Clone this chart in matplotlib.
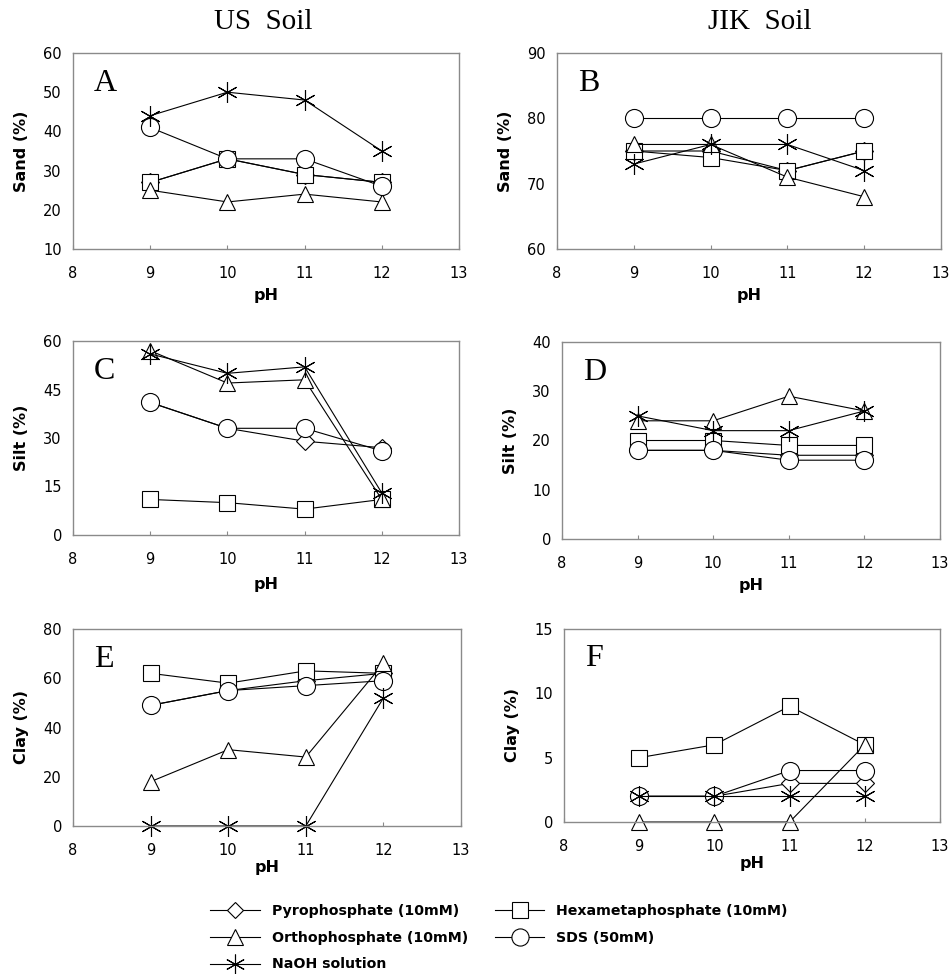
import matplotlib
matplotlib.use("Agg")
import matplotlib.pyplot as plt
from matplotlib.lines import Line2D

# pH values
ph = [9, 10, 11, 12]

# US soil (Sand, Silt, Clay)
us_sand_pyro = [27, 33, 29, 27]
us_sand_hexa = [27, 33, 29, 27]
us_sand_ortho = [25, 22, 24, 22]
us_sand_sds = [41, 33, 33, 26]
us_sand_naoh = [44, 50, 48, 35]

us_silt_pyro = [41, 33, 29, 27]
us_silt_hexa = [11, 10, 8, 11]
us_silt_ortho = [57, 47, 48, 11]
us_silt_sds = [41, 33, 33, 26]
us_silt_naoh = [56, 50, 52, 13]

us_clay_pyro = [49, 55, 59, 62]
us_clay_hexa = [62, 58, 63, 62]
us_clay_ortho = [18, 31, 28, 66]
us_clay_sds = [49, 55, 57, 59]
us_clay_naoh = [0, 0, 0, 52]

# JIK soil
jik_sand_pyro = [75, 75, 72, 75]
jik_sand_hexa = [75, 74, 72, 75]
jik_sand_ortho = [76, 76, 71, 68]
jik_sand_sds = [80, 80, 80, 80]
jik_sand_naoh = [73, 76, 76, 72]

jik_silt_pyro = [18, 18, 17, 17]
jik_silt_hexa = [20, 20, 19, 19]
jik_silt_ortho = [24, 24, 29, 26]
jik_silt_sds = [18, 18, 16, 16]
jik_silt_naoh = [25, 22, 22, 26]

jik_clay_pyro = [2, 2, 3, 3]
jik_clay_hexa = [5, 6, 9, 6]
jik_clay_ortho = [0, 0, 0, 6]
jik_clay_sds = [2, 2, 4, 4]
jik_clay_naoh = [2, 2, 2, 2]

nombres = ["Pyrophosphate (10mM)", "Orthophosphate (10mM)", "NaOH solution",
           "Hexametaphosphate (10mM)", "SDS (50mM)"]
marcadores = ["D", "^", (6, 2, 0), "s", "o"]
tam = [9, 12, 15, 12, 13]

W, H = 953, 974
fig = plt.figure(figsize=(W / 100, H / 100), dpi=100)

def caja(x0, y0, x1, y1):
    # pixeles -> fraccion de figura
    return [x0 / W, 1 - y1 / H, (x1 - x0) / W, (y1 - y0) / H]

paneles = [
    ("A", caja(73, 53, 459, 249), [us_sand_pyro, us_sand_ortho, us_sand_naoh, us_sand_hexa, us_sand_sds],
     (10, 60), [10, 20, 30, 40, 50, 60], "Sand (%)", 5),
    ("B", caja(557, 53, 941, 249), [jik_sand_pyro, jik_sand_ortho, jik_sand_naoh, jik_sand_hexa, jik_sand_sds],
     (60, 90), [60, 70, 80, 90], "Sand (%)", 5),
    ("C", caja(73, 341, 459, 535), [us_silt_pyro, us_silt_ortho, us_silt_naoh, us_silt_hexa, us_silt_sds],
     (0, 60), [0, 15, 30, 45, 60], "Silt (%)", 7),
    ("D", caja(562, 342, 940, 539), [jik_silt_pyro, jik_silt_ortho, jik_silt_naoh, jik_silt_hexa, jik_silt_sds],
     (0, 40), [0, 10, 20, 30, 40], "Silt (%)", 5),
    ("E", caja(73, 629, 461, 826), [us_clay_pyro, us_clay_ortho, us_clay_naoh, us_clay_hexa, us_clay_sds],
     (0, 80), [0, 20, 40, 60, 80], "Clay (%)", 1),
    ("F", caja(564, 629, 940, 822), [jik_clay_pyro, jik_clay_ortho, jik_clay_naoh, jik_clay_hexa, jik_clay_sds],
     (0, 15), [0, 5, 10, 15], "Clay (%)", 1),
]

orden = [0, 3, 1, 4, 2]  # dibujo: diamante abajo, asterisco arriba
for letra, rect, series, ylim, yt, ylab, lp in paneles:
    ax = fig.add_axes(rect)
    for i in orden:
        ax.plot(ph, series[i], color="black", lw=0.8, marker=marcadores[i],
                ms=tam[i], mfc="white", mec="black", mew=0.8, clip_on=False)
    ax.set_xlim(8, 13)
    ax.set_ylim(*ylim)
    ax.set_xticks([8, 9, 10, 11, 12, 13])
    ax.set_yticks(yt)
    ax.tick_params(axis="x", direction="in", length=3, color="#8a8a8a", labelsize=10.5, pad=12.5)
    ax.tick_params(axis="y", length=0, labelsize=10.5, pad=8)
    for s in ax.spines.values():
        s.set_color("#8a8a8a")
        s.set_linewidth(1.0)
    ax.set_xlabel("pH", fontsize=11.5, fontweight="bold", labelpad=lp)
    ax.set_ylabel(ylab, fontsize=11.5, fontweight="bold", labelpad=10)
    ax.text(0.055, 0.92, letra, transform=ax.transAxes, va="top", ha="left",
            fontsize=23, family="Liberation Serif")

fig.text(263 / W, 1 - 22 / H, "US  Soil", ha="center", va="center",
         fontsize=21, family="Liberation Serif")
fig.text(760 / W, 1 - 22 / H, "JIK  Soil", ha="center", va="center",
         fontsize=21, family="Liberation Serif")

handles = [Line2D([], [], color="black", lw=0.8, marker=marcadores[i], ms=tam[i] * 0.95,
                  mfc="white", mec="black", mew=0.8) for i in range(5)]
leg = fig.legend(handles, nombres, ncol=2, loc="upper left", bbox_to_anchor=(210 / W, 1 - 904 / H),
                 frameon=False, prop={"weight": "bold", "size": 10.2}, handlelength=3.5,
                 columnspacing=1.9, labelspacing=0.9, handletextpad=0.85,
                 borderpad=0, borderaxespad=0)

plt.savefig("out.png", dpi=100)
